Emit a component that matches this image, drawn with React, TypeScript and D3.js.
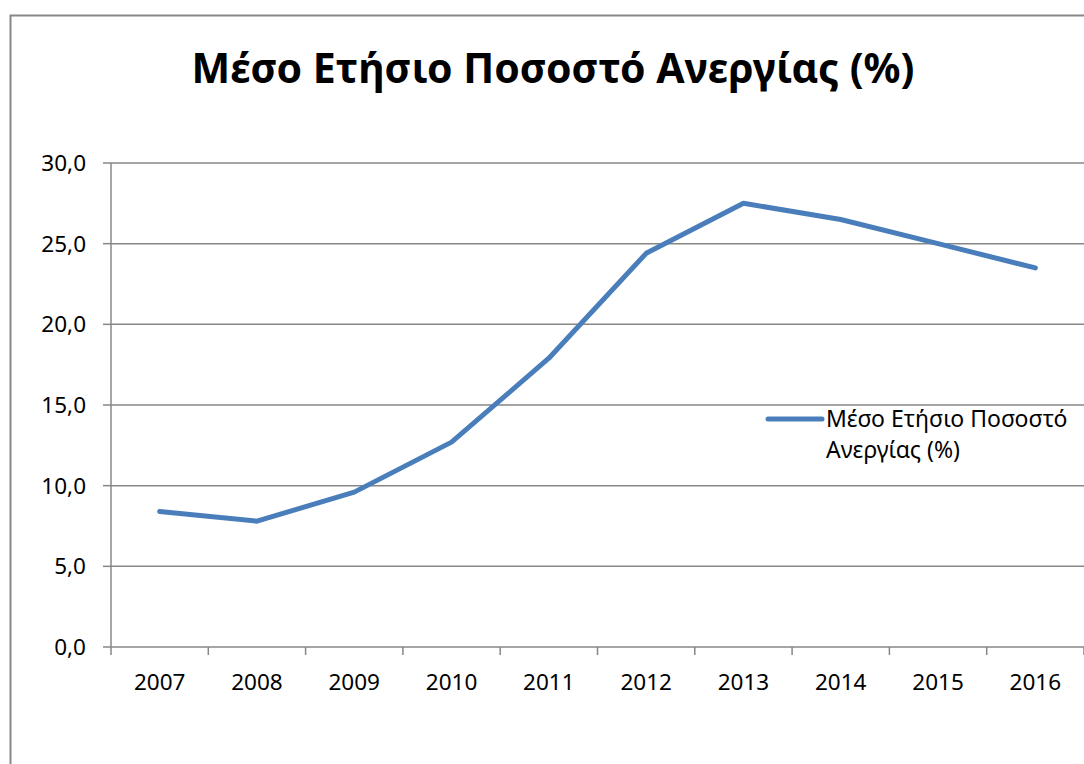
import * as d3 from "d3";

const years = ["2007", "2008", "2009", "2010", "2011", "2012", "2013", "2014", "2015", "2016"];
const unemployment = [8.4, 7.8, 9.6, 12.7, 17.9, 24.4, 27.5, 26.5, 25.0, 23.5];
const yTicks = [0, 5, 10, 15, 20, 25, 30];

const title = "Μέσο Ετήσιο Ποσοστό Ανεργίας (%)";
const legendLines = ["Μέσο Ετήσιο Ποσοστό", "Ανεργίας (%)"];

const W = 1084;
const H = 764;
const FONT = "'Noto Sans', 'Open Sans', sans-serif";

export default function App() {
  const plot = { left: 111, right: 1084, top: 163, bottom: 647 };
  const x = d3.scaleBand().domain(years).range([plot.left, plot.right]);
  const y = d3.scaleLinear().domain([0, 30]).range([plot.bottom, plot.top]);
  const line = d3
    .line<number>()
    .x((_, i) => (x(years[i]) ?? 0) + x.bandwidth() / 2)
    .y((d) => y(d));

  const grid = "#878787";
  const blue = "#4A7EBB";

  return (
    <div style={{ position: "fixed", left: 0, top: 0 }}>
      <svg width={W} height={H} style={{ display: "block", background: "#fff" }} fontFamily={FONT}>
        <rect x={10.5} y={15.5} width={W + 20} height={H + 20} fill="#fff" stroke={grid} strokeWidth={2} />

        <text x={553} y={83} textAnchor="middle" fontSize={41} fontWeight="bold" fill="#000">
          {title}
        </text>

        {yTicks.map((t) => (
          <g key={t}>
            <line x1={plot.left} x2={plot.right} y1={y(t)} y2={y(t)} stroke={grid} strokeWidth={1.5} />
            <line x1={plot.left - 8} x2={plot.left} y1={y(t)} y2={y(t)} stroke={grid} strokeWidth={1.5} />
            <text x={86} y={y(t)} dy="0.35em" textAnchor="end" fontSize={22.5} fill="#000">
              {t.toFixed(1).replace(".", ",")}
            </text>
          </g>
        ))}

        <line x1={plot.left} x2={plot.left} y1={plot.top} y2={plot.bottom + 8} stroke={grid} strokeWidth={1.5} />
        {years.map((yr) => (
          <line
            key={"t" + yr}
            x1={(x(yr) ?? 0) + x.bandwidth()}
            x2={(x(yr) ?? 0) + x.bandwidth()}
            y1={plot.bottom}
            y2={plot.bottom + 8}
            stroke={grid}
            strokeWidth={1.5}
          />
        ))}
        {years.map((yr) => (
          <text
            key={yr}
            x={(x(yr) ?? 0) + x.bandwidth() / 2}
            y={690}
            textAnchor="middle"
            fontSize={22.5}
            fill="#000"
          >
            {yr}
          </text>
        ))}

        <path d={line(unemployment) ?? ""} fill="none" stroke={blue} strokeWidth={5} strokeLinejoin="round" strokeLinecap="round" />

        <line x1={768} x2={822} y1={419} y2={419} stroke={blue} strokeWidth={5} strokeLinecap="round" />
        {legendLines.map((l, i) => (
          <text key={l} x={826} y={427 + i * 31} fontSize={23} fill="#000">
            {l}
          </text>
        ))}
      </svg>
    </div>
  );
}
